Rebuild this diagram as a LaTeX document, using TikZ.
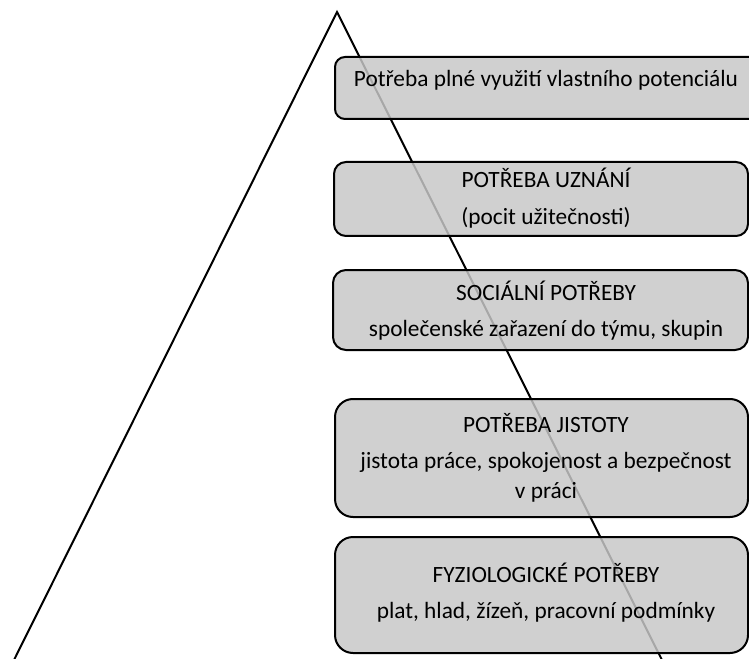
\documentclass[tikz,border=0pt]{standalone}
\usepackage{fontspec}
\setmainfont{Carlito}
\definecolor{boxgray}{RGB}{199,199,199}
\tikzset{
  tri/.style={line width=1.5pt, line join=miter},
  pbox/.style={draw=black, line width=1.5pt, fill=boxgray, fill opacity=0.84, inner sep=0pt},
  lbl/.style={anchor=base, inner sep=0pt, font=\fontsize{17.5}{21}\selectfont, text=black},
}
\begin{document}
\begin{tikzpicture}[x=0.75pt,y=-0.75pt]
\useasboundingbox (0,0) rectangle (749,659);
\coordinate (apex) at (337,12);
\coordinate (bl) at (13,662);
\coordinate (br) at (663,662);
\draw[tri] (bl) -- (apex) -- (br);
% boxes
\node[pbox, rounded corners=7.5pt, minimum width=318.75pt, minimum height=46.5pt] (b1) at (547.5,88) {};
\node[pbox, rounded corners=9pt, minimum width=310.5pt, minimum height=55.5pt] (b2) at (541,199) {};
\node[pbox, rounded corners=9.75pt, minimum width=311.25pt, minimum height=60pt] (b3) at (540.5,310) {};
\node[pbox, rounded corners=13.5pt, minimum width=309.75pt, minimum height=88.5pt] (b4) at (541.5,458) {};
\node[pbox, rounded corners=13.5pt, minimum width=309.75pt, minimum height=87pt] (b5) at (541.5,595) {};
% texts
\node[lbl] (t1) at (546,87) {Potřeba plné využití vlastního potenciálu};
\node[lbl] (t2a) at (546,188) {POTŘEBA UZNÁNÍ};
\node[lbl] (t2b) at (546,225) {(pocit užitečnosti)};
\node[lbl] (t3a) at (546,300) {SOCIÁLNÍ POTŘEBY};
\node[lbl] (t3b) at (546,336) {společenské zařazení do týmu, skupin};
\node[lbl] (t4a) at (546,432) {POTŘEBA JISTOTY};
\node[lbl] (t4b) at (546,468) {jistota práce, spokojenost a bezpečnost};
\node[lbl] (t4c) at (546,498) {v práci};
\node[lbl] (t5a) at (546,582) {FYZIOLOGICKÉ POTŘEBY};
\node[lbl] (t5b) at (546,618) {plat, hlad, žízeň, pracovní podmínky};
\end{tikzpicture}
\end{document}
